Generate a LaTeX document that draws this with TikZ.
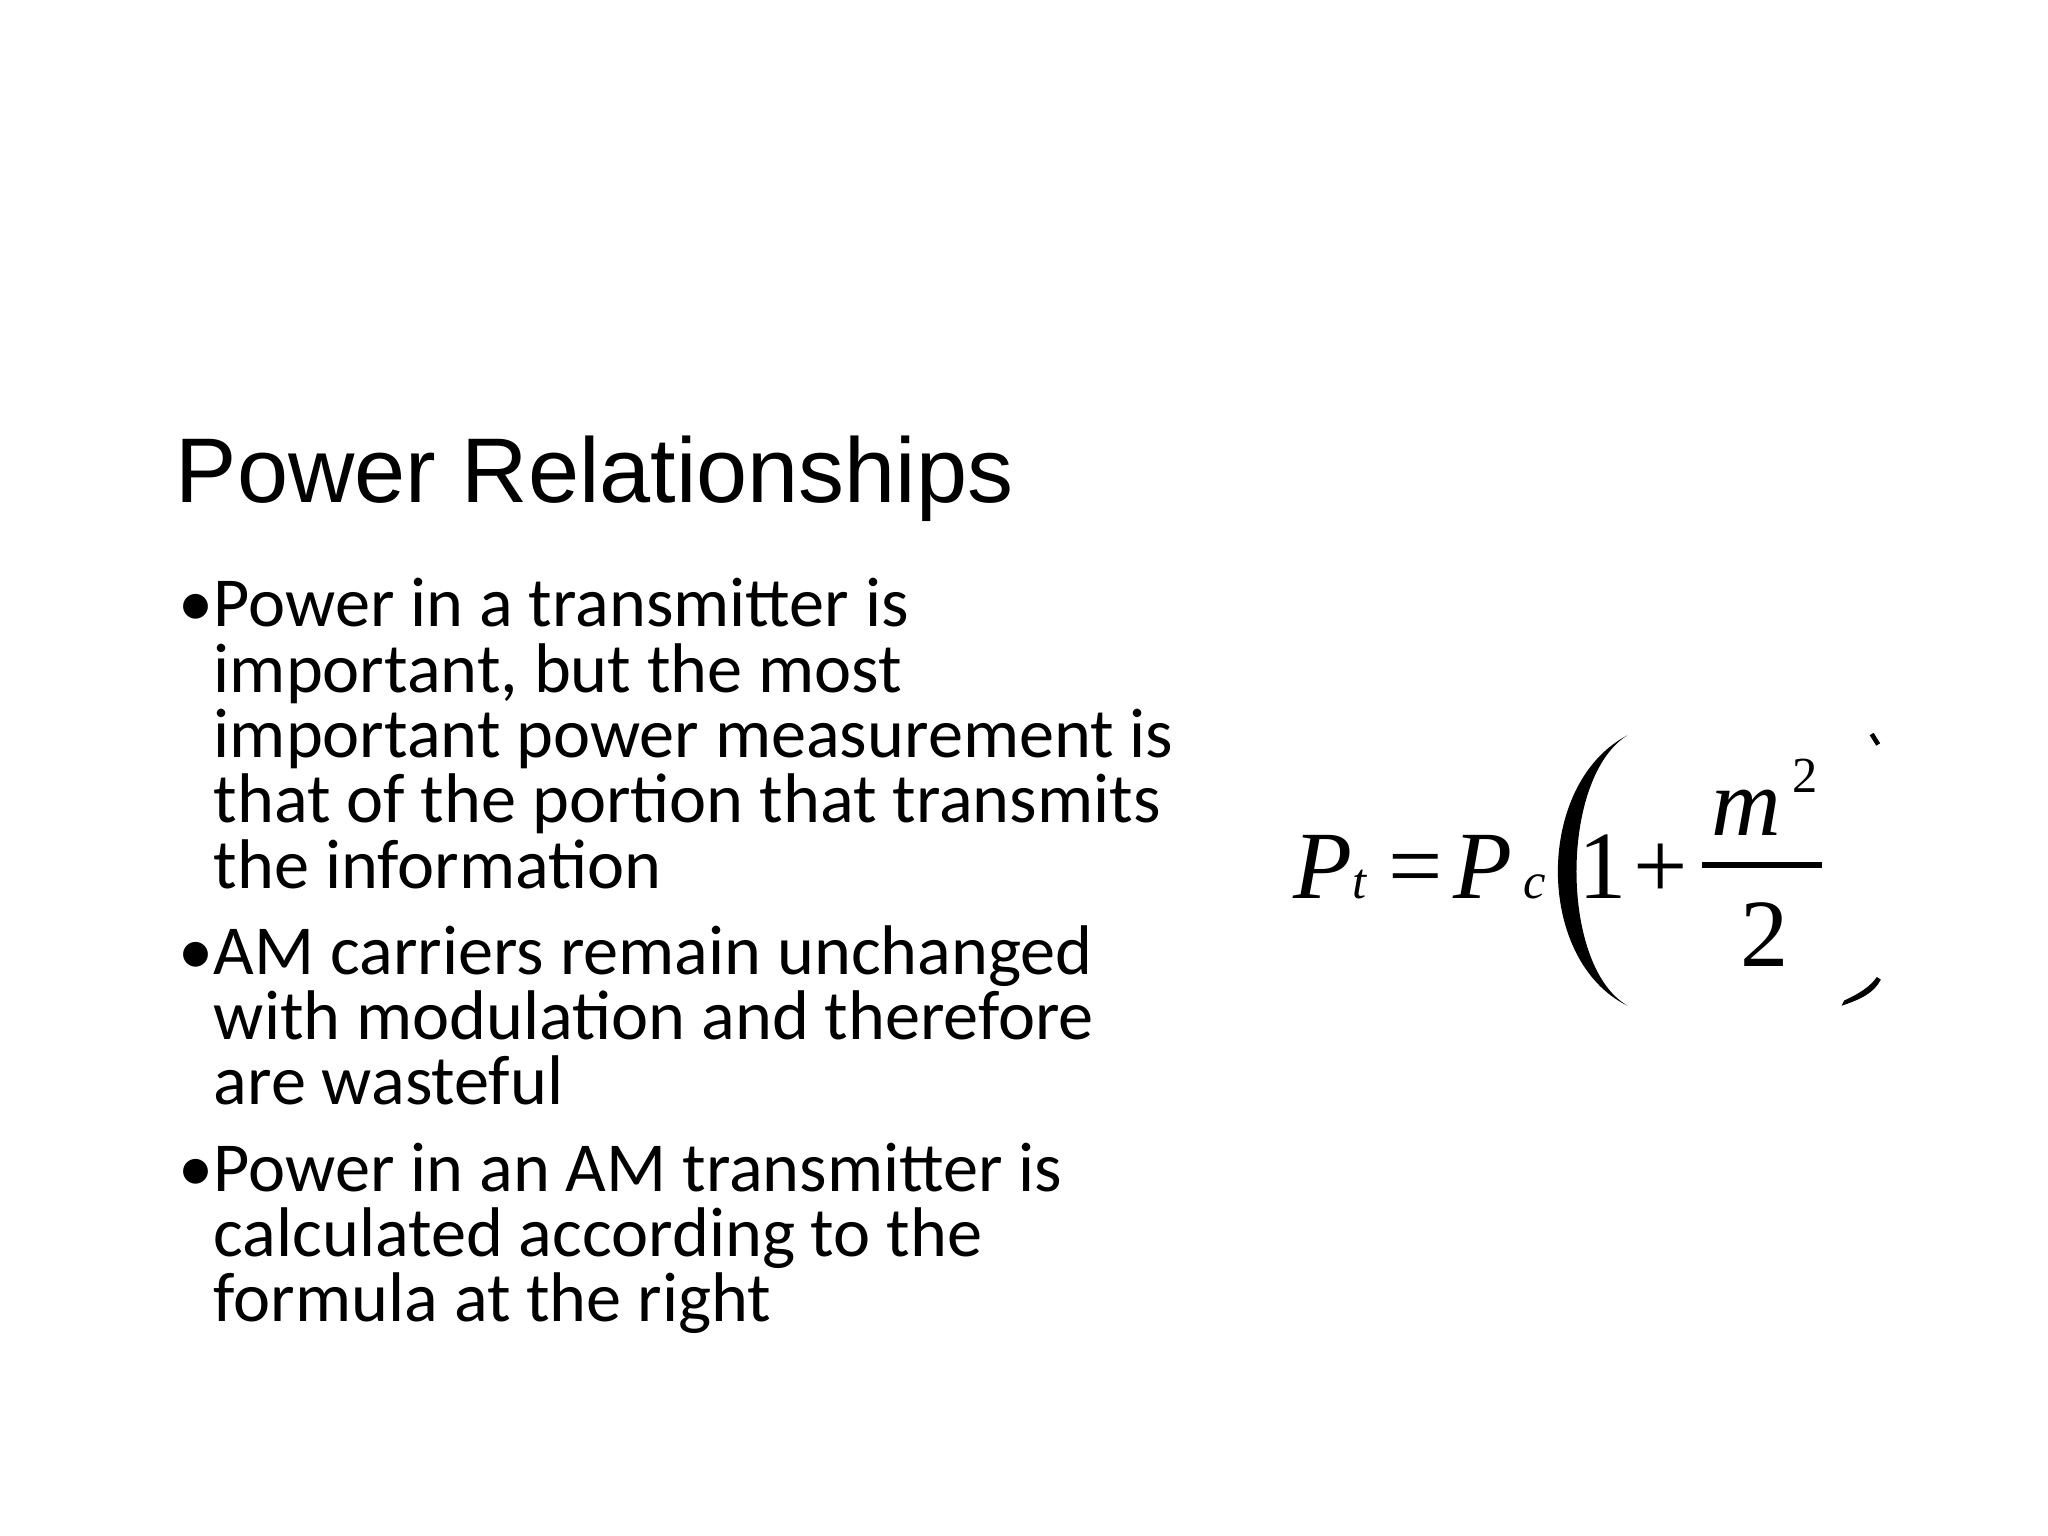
\documentclass[tikz,border=0pt]{standalone}
\usepackage{fontspec}
\setmainfont{Carlito}
\newfontfamily\titlefont{Liberation Sans}
\newfontfamily\mathserif{Liberation Serif}
\begin{document}
\begin{tikzpicture}[x=0.01cm,y=-0.01cm,
  title/.style={anchor=base west,inner sep=0,font=\titlefont\fontsize{20}{24}\selectfont},
  body/.style={anchor=base west,inner sep=0,font=\fontsize{15.3}{14.2}\selectfont},
  bul/.style={anchor=base west,inner sep=0,font=\fontsize{15.3}{14.2}\selectfont},
  big/.style={anchor=base west,inner sep=0,font=\mathserif\fontsize{21}{24}\selectfont},
  bigi/.style={anchor=base west,inner sep=0,font=\mathserif\itshape\fontsize{21}{24}\selectfont},
  small/.style={anchor=base west,inner sep=0,font=\mathserif\fontsize{11}{12}\selectfont},
  smalli/.style={anchor=base west,inner sep=0,font=\mathserif\itshape\fontsize{11}{12}\selectfont}]
\useasboundingbox[fill=white] (0,0) rectangle (1568,1176);
\node[title] (t) at (134,385) {Power Relationships};
\node[bul] (b1) at (136,480) {•};
\node[body] (l1) at (163,480) {Power in a transmitter is};
\node[body] (l2) at (163,530) {important, but the most};
\node[body] (l3) at (163,580) {important power measurement is};
\node[body] (l4) at (163,630) {that of the portion that transmits};
\node[body] (l5) at (163,680) {the information};
\node[bul] (b2) at (136,746) {•};
\node[body] (l6) at (163,746) {AM carriers remain unchanged};
\node[body] (l7) at (163,796) {with modulation and therefore};
\node[body] (l8) at (163,846) {are wasteful};
\node[bul] (b3) at (136,912) {•};
\node[body] (l9) at (163,912) {Power in an AM transmitter is};
\node[body] (l10) at (163,962) {calculated according to the};
\node[body] (l11) at (163,1012) {formula at the right};
% formula
\node[bigi] (p1) at (990,688) {P};
\node[smalli] (s1) at (1035,688) {t};
\node[big] (eq) at (1062,688) {=};
\node[bigi] (p2) at (1112,688) {P};
\node[smalli] (s2) at (1166,688) {c};
\fill (1246,563) .. controls (1175,600) and (1175,735) .. (1246,770)
  -- (1243,768) .. controls (1195,735) and (1195,600) .. (1243,565) -- cycle;
\node[big] (one) at (1208,688) {1};
\node[big] (plus) at (1250,688) {+};
\node[bigi] (m) at (1310,640) {m};
\node[small] (sq) at (1372,607) {2};
\draw[line width=1.3pt] (1303,662) -- (1395,662);
\node[big] (two) at (1332,740) {2};
\draw[line width=1pt] (1433,562) -- (1438,570);
\fill (1440,750) .. controls (1435,760) and (1425,765) .. (1410,770) -- (1412,766) .. controls (1425,760) and (1432,755) .. (1437,748) -- cycle;
\end{tikzpicture}
\end{document}
